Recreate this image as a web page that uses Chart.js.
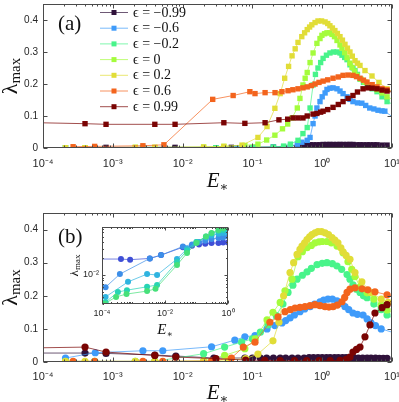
<!DOCTYPE html>
<html>
<head>
<meta charset="utf-8">
<script src="https://cdn.jsdelivr.net/npm/chart.js@4.4.0/dist/chart.umd.min.js"></script>
<style>
body{margin:0;background:#fff}
#wrap{position:relative;width:399px;height:402px;background:#fff}
#wrap canvas{position:absolute}
</style>
</head>
<body>
<div id="wrap">
<canvas id="chartA" width="399" height="200" style="left:0;top:0"></canvas>
<canvas id="chartB" width="399" height="202" style="left:0;top:200px"></canvas>
<canvas id="chartC" width="166" height="118" style="left:70px;top:222px"></canvas>
</div>
<script>
// epsilon values + turbo-like colours
const epsLabels = ['−0.99', '−0.6', '−0.2', '0', '0.2', '0.6', '0.99'];
const epsColors = ['#30123b', '#3f9bfa', '#48f48a', '#a4fc3c', '#e1dd37', '#f3641d', '#7a0403'];
const insetColors = ['#3f4fd6', '#3d8ee8', '#2fb4e0', '#28d4b4', '#46e07a'];

// axis ticks
const xMajorMain = [1e-4, 1e-3, 1e-2, 1e-1, 1, 10];
const yTicksMain = [0, 0.1, 0.2, 0.3, 0.4];
const xMajorInset = [1e-4, 1e-2, 1];
const yMajorInset = [1e-2];

// ---- panel (a) : E_* and lambda_max ----
const a_m099_E = [8e-4, 7.8e-3, 0.05, 0.2, 0.45, 0.53, 0.6, 0.67, 0.74, 0.84, 0.93, 1.03, 1.17, 1.29, 1.43, 1.63, 1.8, 1.99, 2.27, 2.5, 2.76, 3.15, 3.48, 3.85, 4.39, 4.84, 5.5, 6.1, 7.2, 8.5];
const a_m099_L = [0.002, 0.002, 0.002, 0.003, 0.008, 0.009, 0.009, 0.01, 0.01, 0.01, 0.01, 0.011, 0.011, 0.011, 0.011, 0.011, 0.011, 0.011, 0.011, 0.011, 0.011, 0.01, 0.01, 0.01, 0.01, 0.01, 0.01, 0.01, 0.009, 0.009];
const a_m06_E = [2.1e-4, 5.5e-4, 2.7e-3, 5.4e-3, 0.03, 0.06, 0.11, 0.2, 0.28, 0.35, 0.44, 0.51, 0.61, 0.67, 0.74, 0.79, 0.84, 0.93, 1.0, 1.1, 1.17, 1.29, 1.43, 1.63, 1.8, 1.99, 2.27, 2.5, 2.76, 3.2, 3.7, 4.2, 4.8, 5.5, 6.3, 7.2, 7.9, 12];
const a_m06_L = [0.001, 0.001, 0.002, 0.002, 0.001, 0.001, 0.002, 0.003, 0.004, 0.006, 0.012, 0.018, 0.024, 0.033, 0.076, 0.1, 0.125, 0.145, 0.16, 0.172, 0.183, 0.187, 0.188, 0.185, 0.178, 0.17, 0.16, 0.152, 0.145, 0.141, 0.14, 0.133, 0.125, 0.122, 0.118, 0.116, 0.115, 0.085];
const a_m02_E = [2.1e-4, 2.7e-3, 0.03, 0.1, 0.2, 0.28, 0.35, 0.45, 0.53, 0.61, 0.67, 0.74, 0.8, 0.87, 0.95, 1.03, 1.15, 1.29, 1.45, 1.63, 1.8, 1.92, 2.1, 2.27, 2.5, 2.76, 2.95, 3.2, 3.48, 3.9, 4.39, 5.2, 6.1, 7.2, 8.5, 12];
const a_m02_L = [0.001, 0.001, 0.001, 0.002, 0.003, 0.006, 0.012, 0.024, 0.045, 0.064, 0.125, 0.197, 0.23, 0.25, 0.267, 0.28, 0.29, 0.297, 0.3, 0.3, 0.297, 0.29, 0.283, 0.276, 0.26, 0.25, 0.242, 0.23, 0.215, 0.205, 0.197, 0.185, 0.176, 0.16, 0.145, 0.13];
const a_0_E = [2.1e-4, 4e-4, 2.1e-3, 4e-3, 0.02, 0.039, 0.078, 0.12, 0.16, 0.21, 0.27, 0.32, 0.37, 0.44, 0.48, 0.53, 0.57, 0.61, 0.67, 0.74, 0.84, 0.93, 0.99, 1.08, 1.17, 1.28, 1.38, 1.5, 1.63, 1.8, 1.92, 2.1, 2.27, 2.5, 2.67, 2.9, 3.15, 3.6, 4.1, 5, 6.1, 7.2, 8.5, 12];
const a_0_L = [0.001, 0.001, 0.002, 0.002, 0.003, 0.005, 0.008, 0.012, 0.025, 0.04, 0.06, 0.075, 0.094, 0.125, 0.155, 0.197, 0.218, 0.236, 0.267, 0.297, 0.327, 0.342, 0.352, 0.357, 0.36, 0.36, 0.355, 0.348, 0.336, 0.322, 0.312, 0.298, 0.282, 0.265, 0.252, 0.24, 0.227, 0.215, 0.206, 0.193, 0.182, 0.172, 0.16, 0.145];
const a_02_E = [2.1e-4, 4e-4, 2.1e-3, 4e-3, 0.02, 0.039, 0.071, 0.12, 0.162, 0.21, 0.25, 0.29, 0.33, 0.37, 0.41, 0.45, 0.51, 0.56, 0.61, 0.66, 0.71, 0.79, 0.87, 0.98, 1.1, 1.2, 1.29, 1.4, 1.52, 1.65, 1.8, 1.95, 2.12, 2.3, 2.5, 2.7, 2.95, 3.2, 3.48, 4.1, 5.17, 6.5, 8.5, 12];
const a_02_L = [0.001, 0.001, 0.002, 0.002, 0.003, 0.005, 0.009, 0.033, 0.067, 0.124, 0.17, 0.218, 0.255, 0.288, 0.31, 0.33, 0.348, 0.36, 0.37, 0.378, 0.385, 0.392, 0.397, 0.397, 0.394, 0.389, 0.382, 0.375, 0.367, 0.358, 0.348, 0.337, 0.324, 0.312, 0.3, 0.287, 0.273, 0.265, 0.258, 0.242, 0.225, 0.205, 0.185, 0.165];
const a_06_E = [2.7e-4, 5.5e-4, 2.7e-3, 5.4e-3, 0.027, 0.053, 0.092, 0.109, 0.152, 0.211, 0.265, 0.324, 0.38, 0.45, 0.53, 0.61, 0.7, 0.79, 0.9, 1.03, 1.2, 1.43, 1.7, 1.99, 2.35, 2.76, 3.1, 3.48, 3.9, 4.39, 5.2, 6.1, 7.2, 8.48, 12];
const a_06_L = [0.004, 0.005, 0.007, 0.01, 0.152, 0.164, 0.176, 0.17, 0.173, 0.173, 0.176, 0.179, 0.182, 0.185, 0.188, 0.191, 0.195, 0.2, 0.205, 0.209, 0.213, 0.218, 0.222, 0.227, 0.228, 0.227, 0.223, 0.218, 0.212, 0.206, 0.198, 0.191, 0.186, 0.182, 0.17];
const a_099_E = [5e-5, 4e-4, 8e-4, 4e-3, 7.8e-3, 0.039, 0.078, 0.152, 0.24, 0.32, 0.382, 0.45, 0.53, 0.61, 0.74, 0.84, 0.95, 1.03, 1.2, 1.43, 1.7, 1.99, 2.35, 2.76, 3.2, 3.85, 4.5, 5.2, 6.1, 7.2, 8.5, 12];
const a_099_L = [0.08, 0.076, 0.074, 0.074, 0.074, 0.079, 0.077, 0.079, 0.088, 0.09, 0.094, 0.094, 0.094, 0.1, 0.106, 0.108, 0.112, 0.115, 0.12, 0.127, 0.136, 0.145, 0.155, 0.164, 0.175, 0.185, 0.188, 0.187, 0.185, 0.181, 0.178, 0.17];

// ---- panel (b) ----
const b_m099_E = [5e-5, 4e-4, 8e-4, 4e-3, 8e-3, 0.028, 0.078, 0.1, 0.13, 0.16, 0.2, 0.25, 0.3, 0.37, 0.45, 0.55, 0.65, 0.75, 0.87, 1.0, 1.15, 1.3, 1.5, 1.7, 1.95, 2.2, 2.5, 2.9, 3.3, 3.8, 4.4, 5.0, 5.8, 6.6, 7.5, 8.5];
const b_m099_L = [0.027, 0.027, 0.026, 0.021, 0.018, 0.012, 0.012, 0.012, 0.012, 0.012, 0.012, 0.012, 0.012, 0.012, 0.012, 0.012, 0.013, 0.013, 0.013, 0.013, 0.013, 0.013, 0.013, 0.013, 0.013, 0.013, 0.012, 0.012, 0.012, 0.012, 0.012, 0.012, 0.012, 0.011, 0.011, 0.011];
const b_m06_E = [2.1e-4, 5.6e-4, 2.7e-3, 5.2e-3, 0.026, 0.056, 0.078, 0.109, 0.162, 0.21, 0.265, 0.3, 0.346, 0.4, 0.48, 0.56, 0.67, 0.78, 0.93, 1.05, 1.21, 1.4, 1.63, 1.85, 2.12, 2.4, 2.76, 3.2, 3.85, 4.4, 5, 5.8, 7, 12];
const b_m06_L = [0.012, 0.028, 0.034, 0.034, 0.046, 0.066, 0.076, 0.08, 0.1, 0.11, 0.118, 0.125, 0.133, 0.142, 0.152, 0.16, 0.167, 0.175, 0.182, 0.187, 0.19, 0.19, 0.185, 0.177, 0.167, 0.158, 0.148, 0.144, 0.142, 0.13, 0.118, 0.11, 0.1, 0.085];
const b_m02_E = [2.1e-4, 5.5e-4, 2.1e-3, 4e-3, 0.02, 0.04, 0.07, 0.1, 0.13, 0.167, 0.22, 0.274, 0.324, 0.38, 0.436, 0.52, 0.606, 0.7, 0.843, 1.0, 1.17, 1.4, 1.63, 1.9, 2.27, 2.5, 2.76, 3.1, 3.48, 3.9, 4.39, 5.5, 7, 8.48, 12];
const b_m02_L = [0.002, 0.002, 0.002, 0.002, 0.025, 0.045, 0.06, 0.07, 0.09, 0.112, 0.14, 0.175, 0.21, 0.232, 0.25, 0.262, 0.272, 0.283, 0.294, 0.298, 0.3, 0.297, 0.29, 0.28, 0.264, 0.25, 0.233, 0.22, 0.21, 0.2, 0.194, 0.175, 0.158, 0.142, 0.125];
const b_0_E = [2.1e-4, 5.5e-4, 2.1e-3, 4e-3, 0.02, 0.04, 0.078, 0.11, 0.162, 0.197, 0.25, 0.293, 0.369, 0.45, 0.52, 0.606, 0.7, 0.79, 0.9, 1.0, 1.17, 1.35, 1.63, 1.99, 2.34, 2.65, 2.95, 3.48, 4.39, 5.5, 7, 8.5, 12];
const b_0_L = [0.001, 0.001, 0.001, 0.001, 0.003, 0.02, 0.04, 0.07, 0.127, 0.15, 0.18, 0.215, 0.25, 0.318, 0.333, 0.345, 0.352, 0.36, 0.363, 0.364, 0.364, 0.36, 0.35, 0.33, 0.303, 0.28, 0.258, 0.227, 0.209, 0.19, 0.172, 0.157, 0.14];
const b_02_E = [2.1e-4, 4e-4, 2.1e-3, 4e-3, 0.02, 0.045, 0.08, 0.12, 0.197, 0.24, 0.28, 0.346, 0.39, 0.436, 0.48, 0.514, 0.56, 0.606, 0.66, 0.714, 0.79, 0.871, 0.98, 1.1, 1.23, 1.38, 1.52, 1.68, 1.85, 1.99, 2.2, 2.5, 2.95, 3.7, 5, 7, 8.8, 12];
const b_02_L = [0.002, 0.002, 0.002, 0.002, 0.003, 0.006, 0.01, 0.024, 0.064, 0.12, 0.2, 0.27, 0.3, 0.325, 0.34, 0.35, 0.36, 0.37, 0.378, 0.385, 0.39, 0.394, 0.394, 0.39, 0.385, 0.376, 0.368, 0.36, 0.345, 0.333, 0.322, 0.31, 0.27, 0.242, 0.21, 0.19, 0.18, 0.165];
const b_06_E = [2.7e-4, 5.5e-4, 2.7e-3, 5.2e-3, 0.026, 0.05, 0.074, 0.109, 0.178, 0.233, 0.293, 0.35, 0.408, 0.48, 0.567, 0.67, 0.789, 0.93, 1.1, 1.25, 1.43, 1.65, 1.92, 2.1, 2.27, 2.5, 2.95, 3.72, 4.5, 5.7, 8.5, 12];
const b_06_L = [0.002, 0.002, 0.002, 0.002, 0.003, 0.012, 0.045, 0.06, 0.12, 0.136, 0.152, 0.158, 0.163, 0.165, 0.167, 0.17, 0.173, 0.17, 0.167, 0.166, 0.167, 0.172, 0.182, 0.195, 0.21, 0.22, 0.224, 0.221, 0.218, 0.212, 0.203, 0.195];
const b_099_E = [5e-5, 4e-4, 8e-4, 4e-3, 8e-3, 0.03, 0.08, 0.15, 0.25, 0.4, 0.6, 0.9, 1.3, 1.8, 2.2, 2.5, 2.76, 3.1, 3.48, 4.1, 4.84, 5.7, 7.2, 8.5, 12];
const b_099_L = [0.042, 0.045, 0.03, 0.02, 0.015, 0.01, 0.006, 0.005, 0.004, 0.004, 0.004, 0.004, 0.004, 0.005, 0.008, 0.015, 0.03, 0.038, 0.045, 0.076, 0.112, 0.148, 0.164, 0.173, 0.2];

// ---- inset (log-log) ----
const in1_E = [5e-5, 4e-4, 7.8e-4, 3.3e-3, 7.5e-3, 0.037, 0.072, 0.12, 0.19, 0.3, 0.5, 0.7, 1.0];
const in1_L = [0.0195, 0.0195, 0.019, 0.02, 0.023, 0.032, 0.034, 0.036, 0.037, 0.038, 0.038, 0.039, 0.039];
const in2_E = [1.3e-4, 3.7e-4, 3.3e-3, 7.5e-3, 0.037, 0.072, 0.12, 0.19, 0.3, 0.5, 0.7, 1.0];
const in2_L = [0.006, 0.0104, 0.02, 0.023, 0.033, 0.036, 0.04, 0.042, 0.045, 0.047, 0.048, 0.05];
const in3_E = [1.3e-4, 6.7e-4, 2.7e-3, 5.6e-3, 0.024, 0.05, 0.1, 0.2, 0.3, 0.5, 0.7, 1.0];
const in3_L = [0.004, 0.0075, 0.0104, 0.01, 0.0195, 0.03, 0.04, 0.048, 0.052, 0.056, 0.058, 0.06];
const in4_E = [1.3e-4, 3.2e-4, 6.2e-4, 2.7e-3, 5.6e-3, 0.024, 0.05, 0.1, 0.2, 0.3, 0.5, 0.7, 1.0];
const in4_L = [0.0032, 0.0049, 0.0053, 0.0061, 0.0066, 0.0172, 0.028, 0.04, 0.05, 0.057, 0.063, 0.066, 0.07];
const in5_E = [1.2e-4, 2.8e-4, 6e-4, 2.7e-3, 5e-3, 0.024, 0.05, 0.1, 0.2, 0.3, 0.5, 0.7, 1.0];
const in5_L = [0.003, 0.004, 0.0045, 0.0051, 0.0056, 0.0152, 0.025, 0.038, 0.05, 0.058, 0.066, 0.071, 0.076];

const tickFont = '"Liberation Sans", Arial, sans-serif';
const serifFont = '"Liberation Serif", "DejaVu Serif", serif';
const supMap = {'-': '⁻', '0': '⁰', '1': '¹', '2': '²', '3': '³', '4': '⁴', '5': '⁵'};

function powLabel(v) {
	const e = Math.round(Math.log10(v));
	return '10' + String(e).split('').map(c => supMap[c]).join('');
}
function fade(hex, a) {
	const n = parseInt(hex.slice(1), 16);
	return 'rgba(' + (n >> 16) + ',' + ((n >> 8) & 255) + ',' + (n & 255) + ',' + a + ')';
}
function series(E, L, color, label, i, style, radius) {
	return {
		label: label,
		data: E.map((e, k) => ({x: e, y: L[k]})),
		showLine: true,
		borderColor: fade(color, 0.7),
		borderWidth: 1,
		backgroundColor: color,
		pointBackgroundColor: color,
		pointBorderColor: color,
		pointBorderWidth: 0,
		pointStyle: style,
		pointRadius: radius,
		order: 10 - i,
	};
}

// minor ticks for log axes (2..9 x 10^k)
function minorTicks(scale) {
	if (scale.type !== 'logarithmic') return [];
	const out = [];
	for (let k = Math.floor(Math.log10(scale.min)); k <= Math.ceil(Math.log10(scale.max)); k++) {
		for (let m = 2; m <= 9; m++) {
			const v = m * Math.pow(10, k);
			if (v > scale.min && v < scale.max) out.push(v);
		}
	}
	return out;
}

// box + inward ticks on all four sides
const framePlugin = {
	id: 'frame',
	afterDatasetsDraw(chart, args, o) {
		const {ctx, chartArea: a, scales: {x, y}} = chart;
		const L = Math.round(a.left) + 0.5, R = Math.round(a.right) - 0.5;
		const T = Math.round(a.top) + 0.5, B = Math.round(a.bottom) - 0.5;
		ctx.save();
		ctx.strokeStyle = o.color;
		ctx.lineWidth = 1;
		ctx.beginPath();
		const xt = x.ticks.map(t => [t.value, o.major]).concat(minorTicks(x).map(v => [v, o.minor]));
		xt.forEach(([v, len]) => {
			const p = Math.round(x.getPixelForValue(v)) + 0.5;
			ctx.moveTo(p, B); ctx.lineTo(p, B - len);
			ctx.moveTo(p, T); ctx.lineTo(p, T + len);
		});
		const yt = y.ticks.map(t => [t.value, o.major]).concat(minorTicks(y).map(v => [v, o.minor]));
		yt.forEach(([v, len]) => {
			const p = Math.round(y.getPixelForValue(v)) + 0.5;
			ctx.moveTo(L, p); ctx.lineTo(L + len, p);
			ctx.moveTo(R, p); ctx.lineTo(R - len, p);
		});
		ctx.stroke();
		ctx.strokeRect(L, T, R - L, B - T);
		ctx.restore();
	}
};

function drawSub(ctx, main, sub, mainFont, subFont, drop) {
	ctx.font = mainFont;
	const w1 = ctx.measureText(main).width;
	ctx.font = subFont;
	const w2 = ctx.measureText(sub).width;
	const x0 = -(w1 + w2) / 2;
	ctx.font = mainFont;
	ctx.fillText(main, x0, 0);
	ctx.font = subFont;
	ctx.fillText(sub, x0 + w1, drop);
}

// axis titles, panel letter, legend
const annotPlugin = {
	id: 'annot',
	beforeDatasetsDraw(chart, args, o) {
		if (!o.bg) return;
		const {ctx, chartArea: a} = chart;
		ctx.save();
		ctx.fillStyle = '#fff';
		ctx.fillRect(a.left, a.top, a.right - a.left, a.bottom - a.top);
		ctx.restore();
	},
	afterDraw(chart, args, o) {
		const {ctx, chartArea: a} = chart;
		ctx.save();
		ctx.fillStyle = '#111';
		ctx.textBaseline = 'alphabetic';
		ctx.textAlign = 'left';
		if (o.panel) {
			ctx.font = o.panel.size + 'px ' + serifFont;
			ctx.fillText(o.panel.text, o.panel.x, o.panel.y);
		}
		// lambda_max
		ctx.save();
		ctx.translate(o.yTitle.x, (a.top + a.bottom) / 2);
		ctx.rotate(-Math.PI / 2);
		drawSub(ctx, 'λ', 'max', o.yTitle.size + 'px ' + serifFont, o.yTitle.sub + 'px ' + serifFont, o.yTitle.drop);
		ctx.restore();
		// E_*
		ctx.save();
		ctx.translate((a.left + a.right) / 2, o.xTitle.y);
		drawSub(ctx, 'E', '∗', 'italic ' + o.xTitle.size + 'px ' + serifFont, o.xTitle.sub + 'px ' + serifFont, o.xTitle.drop);
		ctx.restore();
		if (o.legend) {
			const lg = o.legend;
			chart.data.datasets.forEach((ds, i) => {
				const yy = lg.y + i * lg.dy;
				ctx.strokeStyle = ds.borderColor;
				ctx.lineWidth = 1;
				ctx.beginPath();
				ctx.moveTo(lg.x, yy + 0.5);
				ctx.lineTo(lg.x + 28, yy + 0.5);
				ctx.stroke();
				ctx.fillStyle = ds.pointBackgroundColor;
				ctx.fillRect(lg.x + 11.5, yy - 2, 5, 5);
				ctx.fillStyle = '#111';
				ctx.font = '14px ' + serifFont;
				ctx.textBaseline = 'middle';
				ctx.fillText(ds.label, lg.x + 33, yy + 1);
			});
		}
		ctx.restore();
	}
};

function makeChart(id, datasets, cfg) {
	return new Chart(document.getElementById(id).getContext('2d'), {
		type: 'scatter',
		plugins: [framePlugin, annotPlugin],
		data: {datasets: datasets},
		options: {
			responsive: false,
			animation: false,
			events: [],
			layout: {padding: cfg.padding},
			plugins: {
				legend: {display: false},
				tooltip: {enabled: false},
				frame: {color: '#4a4a4a', major: cfg.major, minor: cfg.minor},
				annot: cfg.annot,
			},
			scales: {
				x: {
					type: 'logarithmic',
					min: cfg.xMin,
					max: cfg.xMax,
					grid: {display: false, drawTicks: false},
					border: {display: false},
					afterBuildTicks: s => { s.ticks = cfg.xMajor.map(v => ({value: v})); },
					afterFit: s => { s.height = cfg.xHeight; s.paddingLeft = 0; s.paddingRight = 0; },
					ticks: {
						autoSkip: false, maxRotation: 0, minRotation: 0,
						padding: cfg.xPad, color: '#262626',
						font: {family: tickFont, size: cfg.xTickSize},
						callback: v => powLabel(v),
					},
				},
				y: {
					type: cfg.yType,
					min: cfg.yMin,
					max: cfg.yMax,
					grid: {display: false, drawTicks: false},
					border: {display: false},
					afterBuildTicks: s => { s.ticks = cfg.yMajor.map(v => ({value: v})); },
					afterFit: s => { s.width = cfg.yWidth; s.paddingTop = 0; s.paddingBottom = 0; },
					ticks: {
						autoSkip: false,
						padding: cfg.yPad, color: '#262626',
						font: {family: tickFont, size: cfg.yTickSize},
						callback: cfg.yType === 'logarithmic' ? (v => powLabel(v)) : (v => String(v)),
					},
				},
			},
		},
	});
}

const epsLabel = i => 'ϵ = ' + epsLabels[i];

// (a) squares
const setA = [
	[a_m099_E, a_m099_L], [a_m06_E, a_m06_L], [a_m02_E, a_m02_L], [a_0_E, a_0_L],
	[a_02_E, a_02_L], [a_06_E, a_06_L], [a_099_E, a_099_L],
];
makeChart('chartA', setA.map(([E, L], i) => series(E, L, epsColors[i], epsLabel(i), i, 'rect', 3.8)), {
	padding: {left: 0, right: 7, top: 1, bottom: 0},
	xMin: 1e-4, xMax: 10, xMajor: xMajorMain, xHeight: 52, xPad: 9,
	yType: 'linear', yMin: 0, yMax: 0.45, yMajor: yTicksMain, yWidth: 43, yPad: 5,
	xTickSize: 11, yTickSize: 10, major: 4, minor: 2,
	annot: {
		panel: {text: '(a)', x: 58, y: 30, size: 21},
		yTitle: {x: 17, size: 22, sub: 15, drop: 3},
		xTitle: {y: 187, size: 21, sub: 13, drop: 4},
		legend: {x: 100, y: 12, dy: 15.7},
	},
});

// (b) circles
const setB = [
	[b_m099_E, b_m099_L], [b_m06_E, b_m06_L], [b_m02_E, b_m02_L], [b_0_E, b_0_L],
	[b_02_E, b_02_L], [b_06_E, b_06_L], [b_099_E, b_099_L],
];
makeChart('chartB', setB.map(([E, L], i) => series(E, L, epsColors[i], epsLabel(i), i, 'circle', 3.6)), {
	padding: {left: 0, right: 7, top: 13, bottom: 0},
	xMin: 1e-4, xMax: 10, xMajor: xMajorMain, xHeight: 40, xPad: 8,
	yType: 'linear', yMin: 0, yMax: 0.45, yMajor: yTicksMain, yWidth: 43, yPad: 5,
	xTickSize: 11, yTickSize: 10, major: 4, minor: 2,
	annot: {
		panel: {text: '(b)', x: 58, y: 43, size: 21},
		yTitle: {x: 17, size: 22, sub: 15, drop: 3},
		xTitle: {y: 199, size: 21, sub: 13, drop: 4},
	},
});

// inset, log-log
const setC = [[in1_E, in1_L], [in2_E, in2_L], [in3_E, in3_L], [in4_E, in4_L], [in5_E, in5_L]];
makeChart('chartC', setC.map(([E, L], i) => series(E, L, insetColors[i], '', i, 'circle', 3)), {
	padding: {left: 0, right: 8, top: 5, bottom: 0},
	xMin: 1e-4, xMax: 1, xMajor: xMajorInset, xHeight: 36, xPad: 4,
	yType: 'logarithmic', yMin: 0.00297, yMax: 0.0746, yMajor: yMajorInset, yWidth: 32, yPad: 3,
	xTickSize: 9, yTickSize: 9, major: 3, minor: 1.5,
	annot: {
		bg: true,
		yTitle: {x: 8, size: 13, sub: 9, drop: 2},
		xTitle: {y: 112, size: 15, sub: 9, drop: 3},
	},
});
</script>
</body>
</html>
